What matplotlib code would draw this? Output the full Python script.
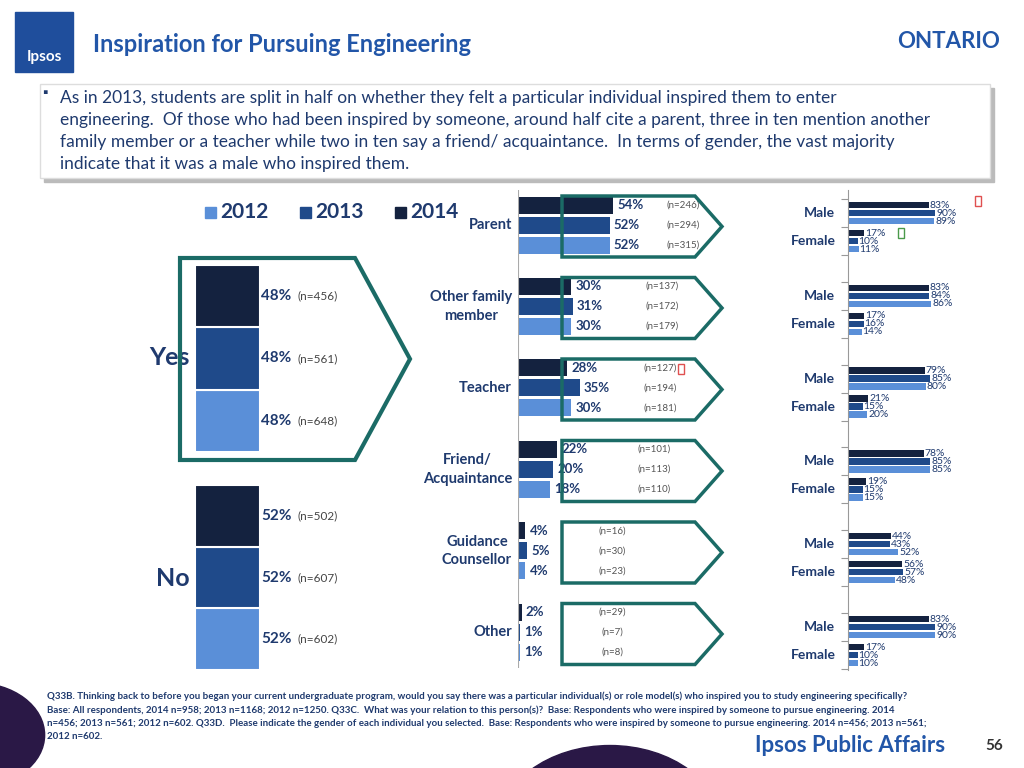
import matplotlib.pyplot as plt
import numpy as np
from matplotlib.patches import Polygon, Rectangle, Circle

plt.rcParams['font.family'] = ['Lato', 'DejaVu Sans']

years = ['2014', '2013', '2012']
colors = {'2014': '#14223f', '2013': '#1f4a8a', '2012': '#5a8fd8'}
NAVY = '#1f3a6e'
TEAL = '#1b6b66'

yes_vals = [48, 48, 48]
yes_n = ['(n=456)', '(n=561)', '(n=648)']
no_vals = [52, 52, 52]
no_n = ['(n=502)', '(n=607)', '(n=602)']

people = ['Parent', 'Other family\nmember', 'Teacher', 'Friend/\nAcquaintance', 'Guidance\nCounsellor', 'Other']
people_vals = {
    '2014': [54, 30, 28, 22, 4, 2],
    '2013': [52, 31, 35, 20, 5, 1],
    '2012': [52, 30, 30, 18, 4, 1],
}
people_n = {
    '2014': ['(n=246)', '(n=137)', '(n=127)', '(n=101)', '(n=16)', '(n=29)'],
    '2013': ['(n=294)', '(n=172)', '(n=194)', '(n=113)', '(n=30)', '(n=7)'],
    '2012': ['(n=315)', '(n=179)', '(n=181)', '(n=110)', '(n=23)', '(n=8)'],
}
male = {
    '2014': [83, 83, 79, 78, 44, 83],
    '2013': [90, 84, 85, 85, 43, 90],
    '2012': [89, 86, 80, 85, 52, 90],
}
female = {
    '2014': [17, 17, 21, 19, 56, 17],
    '2013': [10, 16, 15, 15, 57, 10],
    '2012': [11, 14, 20, 15, 48, 10],
}

W, H = 1024, 768
fig = plt.figure(figsize=(10.24, 7.68), dpi=100)

def fx(x):
    return x / W

def fy(y):
    return 1 - y / H

def pax(x0, y0, x1, y1):
    return fig.add_axes([fx(x0), fy(y1), fx(x1) - fx(x0), fy(y0) - fy(y1)])

def box(x0, y0, x1, y1, **kw):
    fig.patches.append(Rectangle((fx(x0), fy(y1)), fx(x1) - fx(x0), fy(y0) - fy(y1),
                                 transform=fig.transFigure, **kw))

# header
box(15, 12, 73, 72, color='#1f4e9c', zorder=1)
fig.text(fx(44), fy(57), 'Ipsos', color='white', fontsize=11, fontweight='bold', ha='center', va='center')
fig.text(fx(93), fy(45), 'Inspiration for Pursuing Engineering', color='#2256a8', fontsize=17,
         fontweight='bold', va='center')
fig.text(fx(1000), fy(42), 'ONTARIO', color='#2256a8', fontsize=16, fontweight='bold', ha='right', va='center')

# text box with shadow
box(44, 88, 994, 182, color='#bbbbbb', zorder=1)
box(40, 84, 990, 178, facecolor='white', edgecolor='#dddddd', zorder=2)
fig.text(fx(42), fy(93), '▪', color='#1f3a6e', fontsize=10, va='center', zorder=3)
fig.text(fx(60), fy(131),
         'As in 2013, students are split in half on whether they felt a particular individual inspired them to enter\n'
         'engineering.  Of those who had been inspired by someone, around half cite a parent, three in ten mention another\n'
         'family member or a teacher while two in ten say a friend/ acquaintance.  In terms of gender, the vast majority\n'
         'indicate that it was a male who inspired them.',
         fontsize=12.5, color='#1f3a6e', va='center', linespacing=1.45, zorder=3)

# legend
for i, yr in enumerate(['2012', '2013', '2014']):
    x = 205 + i * 95
    box(x, 207, x + 11, 218, color=colors[yr])
    fig.text(fx(x + 15), fy(212), yr, fontsize=15, fontweight='bold', color=NAVY, va='center')

# yes / no stacks
def stack(y0, y1, vals, ns, label, ly):
    ax = pax(195, y0, 260, y1)
    bottom = 0
    for yr, v, n in zip(['2012', '2013', '2014'], vals[::-1], ns[::-1]):
        ax.bar(0, v, bottom=bottom, width=1, color=colors[yr], edgecolor='white', linewidth=1.5)
        ax.text(0.52, bottom + v / 2, f'{v}%', fontsize=11, fontweight='bold', color=NAVY, va='center')
        ax.text(1.08, bottom + v / 2, n, fontsize=8.5, color='#444444', va='center')
        bottom += v
    ax.set_xlim(-0.5, 0.5)
    ax.set_ylim(0, bottom)
    ax.axis('off')
    fig.text(fx(190), fy(ly), label, fontsize=18, fontweight='bold', color=NAVY, ha='right', va='center')

stack(265, 452, yes_vals, yes_n, 'Yes', 358)
stack(485, 670, no_vals, no_n, 'No', 578)

def arrow(x0, x1, tip, y0, y1, lw=2.5):
    yc = (y0 + y1) / 2
    pts = [(fx(x0), fy(y0)), (fx(x1), fy(y0)), (fx(tip), fy(yc)), (fx(x1), fy(y1)), (fx(x0), fy(y1))]
    fig.patches.append(Polygon(pts, closed=True, fill=False, edgecolor=TEAL, linewidth=lw,
                               transform=fig.transFigure, zorder=5))

arrow(180, 355, 410, 258, 460, lw=3)

# middle chart
ax = pax(518, 190, 760, 668)
ax.set_xlim(0, 242 / 1.76)
ax.set_ylim(668, 190)
ax.axis('off')
centers = 225 + np.arange(len(people)) * 81.5
n_x = [683, 662, 660, 654, 612, 612]
for j, yr in enumerate(years):
    ys = centers + (j - 1) * 20
    ax.barh(ys, people_vals[yr], height=17, color=colors[yr])
    for y, v in zip(ys, people_vals[yr]):
        ax.text(v + 2.5, y, f'{v}%', fontsize=9.5, fontweight='bold', color=NAVY, va='center')
for i, c in enumerate(centers):
    for j, yr in enumerate(years):
        fig.text(fx(n_x[i]), fy(c + (j - 1) * 20), people_n[yr][i], fontsize=7,
                 color='#555555', ha='center', va='center')
    fig.text(fx(512), fy(c), people[i], fontsize=10.5, fontweight='bold', color=NAVY, ha='right', va='center',
             multialignment='center', linespacing=1.4)
    arrow(562, 695, 722, c - 29, c + 32)
ax.axvline(0, color='#aaaaaa', lw=0.8)

# right chart
ax = pax(848, 190, 1010, 670)
ax.set_xlim(0, 162 / 0.97)
ax.set_ylim(670, 190)
mc = 213 + np.arange(len(people)) * 82.8
for j, yr in enumerate(years):
    for base, d in ((mc, male), (mc + 28, female)):
        ys = base + (j - 1) * 8
        ax.barh(ys, d[yr], height=6.5, color=colors[yr])
        for y, v in zip(ys, d[yr]):
            ax.text(v + 1, y, f'{v}%', fontsize=7.5, color=NAVY, va='center')
for c in mc:
    ax.text(-13, c, 'Male', fontsize=10, fontweight='bold', color=NAVY, ha='right', va='center')
    ax.text(-13, c + 28, 'Female', fontsize=10, fontweight='bold', color=NAVY, ha='right', va='center')
for s in ['top', 'right', 'bottom']:
    ax.spines[s].set_visible(False)
ax.spines['left'].set_color('#999999')
ax.set_xticks([])
ax.set_yticks(np.concatenate([mc - 14, mc + 14, mc + 42]))
ax.set_yticklabels([])
ax.tick_params(axis='y', length=5, color='#999999', direction='out')

# significance markers
box(975, 196, 981, 206, fill=False, edgecolor='#e05050', lw=1, zorder=6)
box(898, 228, 904, 238, fill=False, edgecolor='#4a9a4a', lw=1, zorder=6)
box(678, 364, 684, 374, fill=False, edgecolor='#e05050', lw=1, zorder=6)

# decorations
fig.patches.append(Circle((fx(-25), fy(735)), 0.068, transform=fig.transFigure, color='#2a1846', zorder=0))
fig.patches.append(Circle((fx(610), fy(830)), 0.11, transform=fig.transFigure, color='#2a1846', zorder=0))

# footnote
fig.text(fx(47), fy(716),
         'Q33B. Thinking back to before you began your current undergraduate program, would you say there was a particular individual(s) or role model(s) who inspired you to study engineering specifically?\n'
         'Base: All respondents, 2014 n=958; 2013 n=1168; 2012 n=1250. Q33C.  What was your relation to this person(s)?  Base: Respondents who were inspired by someone to pursue engineering. 2014\n'
         'n=456; 2013 n=561; 2012 n=602. Q33D.  Please indicate the gender of each individual you selected.  Base: Respondents who were inspired by someone to pursue engineering. 2014 n=456; 2013 n=561;\n'
         '2012 n=602.',
         fontsize=7, fontweight='bold', color=NAVY, va='center', linespacing=1.6, zorder=6)

fig.text(fx(945), fy(746), 'Ipsos Public Affairs', fontsize=16, fontweight='bold', color='#2256a8',
         ha='right', va='center')
fig.text(fx(1003), fy(746), '56', fontsize=11, fontweight='bold', color='#333333', ha='right', va='center')

fig.savefig('out.png', dpi=100)
